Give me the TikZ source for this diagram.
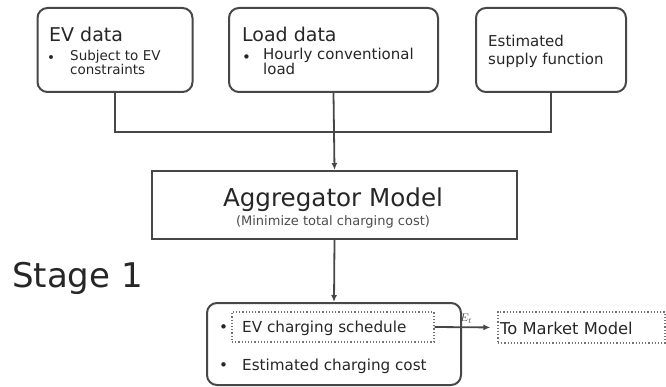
\documentclass[tikz,border=0pt]{standalone}
\usepackage{fontspec}
\setmainfont{DejaVu Sans}
\usetikzlibrary{positioning,arrows.meta}

\begin{document}
\begin{tikzpicture}[x=1pt,y=-1pt,>={Latex[length=7pt,width=6pt]},
   databox/.style={draw=black!72,line width=2pt,rounded corners=10pt,inner sep=0pt},
   modelbox/.style={draw=black!72,line width=2pt,inner sep=0pt},
   dotbox/.style={draw=black!55,dotted,line width=1.2pt,inner sep=0pt},
   wire/.style={draw=black!72,line width=1.8pt},
   txt/.style={anchor=base west,inner sep=0pt,text=black!85}]
   \useasboundingbox (0,0) rectangle (666,387);
   % input boxes
   \node[databox,minimum width=155pt,minimum height=84pt] (evdata) at (115,50) {};
   \node[databox,minimum width=209pt,minimum height=84pt] (loaddata) at (333.5,50) {};
   \node[databox,minimum width=150pt,minimum height=84pt] (supply) at (551,50) {};
   \node[txt,font=\fontsize{19}{19}\selectfont] (evtitle) at (49,42) {EV data};
   \node[txt,font=\fontsize{13.5}{12}\selectfont] (evbul) at (47,63) {\textbullet};
   \node[txt,font=\fontsize{13.5}{12}\selectfont,align=left] (evtext) at (70,75) {Subject to EV\\constraints};
   \node[txt,font=\fontsize{19}{19}\selectfont] (loadtitle) at (242,42) {Load data};
   \node[txt,font=\fontsize{15}{12}\selectfont] (loadbul) at (242,63) {\textbullet};
   \node[txt,font=\fontsize{15}{12}\selectfont,align=left] (loadtext) at (263,75) {Hourly conventional\\load};
   \node[txt,font=\fontsize{15}{18}\selectfont,align=left] (supplytext) at (488,65) {Estimated\\supply function};
   % aggregator
   \node[modelbox,minimum width=365pt,minimum height=68pt] (aggregator) at (334.5,205) {};
   \node[font=\fontsize{24.6}{24}\selectfont,text=black!85,inner sep=0pt,anchor=base] (aggtitle) at (333,207) {Aggregator Model};
   \node[font=\fontsize{13}{12}\selectfont,text=black!70,inner sep=0pt,anchor=base] (aggsub) at (333,226) {(Minimize total charging cost)};
   \node[txt,font=\fontsize{34}{34}\selectfont] (stage) at (12,287) {Stage 1};
   % output
   \node[databox,minimum width=254pt,minimum height=82pt] (output) at (334,344) {};
   \node[dotbox,minimum width=202pt,minimum height=30pt] (schedule) at (333,327) {};
   \node[txt,font=\fontsize{15.2}{12}\selectfont] (sbul) at (219,332) {\textbullet};
   \node[txt,font=\fontsize{15.2}{12}\selectfont] (stext) at (242,332) {EV charging schedule};
   \node[txt,font=\fontsize{15.2}{12}\selectfont] (cbul) at (219,370) {\textbullet};
   \node[txt,font=\fontsize{15.2}{12}\selectfont] (ctext) at (242,370) {Estimated charging cost};
   \node[dotbox,minimum width=167pt,minimum height=31pt] (market) at (581.5,327.5) {};
   \node[txt,font=\fontsize{16.3}{12}\selectfont] (mtext) at (500,334) {To Market Model};
   % connectors
   \coordinate (merge) at (333,132);
   \draw[wire] (evdata.south) |- (merge);
   \draw[wire] (supply.south) |- (merge);
   \draw[wire,->] (loaddata.south) -- (aggregator.north);
   \draw[wire,->] (aggregator.south) -- (output.north);
   \draw[wire,->,shorten >=7pt] (schedule.east) -- node[above,font=\fontsize{11}{11}\selectfont,text=black!75,inner sep=3pt] {$E_t$} (market.west);
\end{tikzpicture}
\end{document}
